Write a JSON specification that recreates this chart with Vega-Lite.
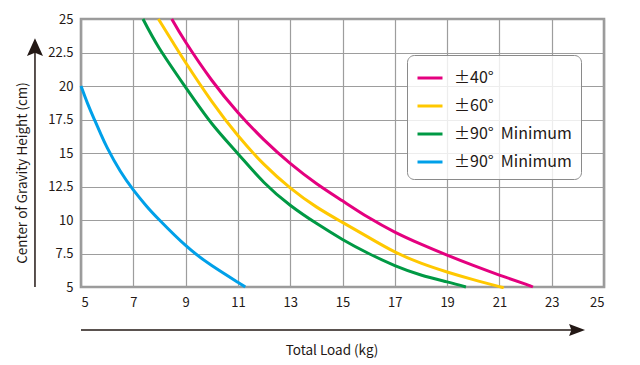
{
  "$schema": "https://vega.github.io/schema/vega-lite/v6.json",
  "width": 523,
  "height": 268,
  "autosize": {"type": "none"},
  "padding": {"left": 81, "top": 19, "right": 36, "bottom": 78},
  "background": "white",
  "config": {
    "view": {"stroke": "#9a9a9a", "strokeWidth": 2.6},
    "font": "Noto Sans CJK JP",
    "axis": {
      "domain": false,
      "ticks": false,
      "grid": true,
      "gridColor": "#9d9d9d",
      "gridWidth": 1.2,
      "labelOverlap": false,
      "labelFont": "Noto Sans CJK JP",
      "labelFontSize": 13,
      "labelColor": "#231815",
      "titleFont": "Noto Sans CJK JP",
      "titleFontSize": 13.5,
      "titleFontWeight": "normal",
      "titleColor": "#231815"
    },
    "legend": {
      "orient": "none",
      "legendX": 326,
      "legendY": 36,
      "symbolType": "stroke",
      "symbolSize": 625,
      "symbolStrokeWidth": 3,
      "labelFont": "Noto Sans CJK JP",
      "labelFontSize": 16,
      "labelColor": "#231815",
      "labelOffset": 10,
      "labelLimit": 0,
      "padding": 9,
      "rowPadding": 6,
      "strokeColor": "#8a8a8a",
      "fillColor": "rgba(255,255,255,0.82)",
      "cornerRadius": 7
    }
  },
  "resolve": {"axis": {"x": "independent", "y": "independent"}},
  "datasets": {
    "curves": [
      {"s": "a", "x": 8.47, "y": 25},
      {"s": "a", "x": 9, "y": 23.28},
      {"s": "a", "x": 10, "y": 20.43},
      {"s": "a", "x": 11, "y": 18.03},
      {"s": "a", "x": 12, "y": 15.98},
      {"s": "a", "x": 13, "y": 14.23},
      {"s": "a", "x": 14, "y": 12.73},
      {"s": "a", "x": 15, "y": 11.43},
      {"s": "a", "x": 16, "y": 10.18},
      {"s": "a", "x": 17, "y": 9.1},
      {"s": "a", "x": 18, "y": 8.2},
      {"s": "a", "x": 19, "y": 7.38},
      {"s": "a", "x": 20, "y": 6.61},
      {"s": "a", "x": 21, "y": 5.89},
      {"s": "a", "x": 22, "y": 5.21},
      {"s": "a", "x": 22.28, "y": 5},
      {"s": "b", "x": 7.96, "y": 25},
      {"s": "b", "x": 8.5, "y": 23.3},
      {"s": "b", "x": 9, "y": 21.75},
      {"s": "b", "x": 10, "y": 18.85},
      {"s": "b", "x": 11, "y": 16.3},
      {"s": "b", "x": 12, "y": 14.15},
      {"s": "b", "x": 13, "y": 12.4},
      {"s": "b", "x": 14, "y": 10.98},
      {"s": "b", "x": 15, "y": 9.82},
      {"s": "b", "x": 16, "y": 8.7},
      {"s": "b", "x": 17, "y": 7.62},
      {"s": "b", "x": 18, "y": 6.78},
      {"s": "b", "x": 19, "y": 6.12},
      {"s": "b", "x": 20, "y": 5.55},
      {"s": "b", "x": 21, "y": 5.03},
      {"s": "b", "x": 21.06, "y": 5},
      {"s": "c", "x": 7.37, "y": 25},
      {"s": "c", "x": 8, "y": 22.8},
      {"s": "c", "x": 9, "y": 19.9},
      {"s": "c", "x": 10, "y": 17.2},
      {"s": "c", "x": 11, "y": 14.95},
      {"s": "c", "x": 12, "y": 12.8},
      {"s": "c", "x": 13, "y": 11.1},
      {"s": "c", "x": 14, "y": 9.75},
      {"s": "c", "x": 15, "y": 8.55},
      {"s": "c", "x": 16, "y": 7.5},
      {"s": "c", "x": 17, "y": 6.6},
      {"s": "c", "x": 18, "y": 5.9},
      {"s": "c", "x": 19, "y": 5.38},
      {"s": "c", "x": 19.72, "y": 5},
      {"s": "d", "x": 5, "y": 20},
      {"s": "d", "x": 5.25, "y": 18.7},
      {"s": "d", "x": 5.5, "y": 17.55},
      {"s": "d", "x": 5.75, "y": 16.45},
      {"s": "d", "x": 6, "y": 15.4},
      {"s": "d", "x": 6.5, "y": 13.65},
      {"s": "d", "x": 7, "y": 12.25},
      {"s": "d", "x": 7.5, "y": 11.05},
      {"s": "d", "x": 8, "y": 10.0},
      {"s": "d", "x": 9, "y": 8.1},
      {"s": "d", "x": 10, "y": 6.6},
      {"s": "d", "x": 11, "y": 5.35},
      {"s": "d", "x": 11.28, "y": 5}
    ]
  },
  "layer": [
    {
      "data": {"name": "curves"},
      "mark": {"type": "line", "strokeWidth": 3, "interpolate": "natural"},
      "encoding": {
        "x": {
          "field": "x",
          "type": "quantitative",
          "scale": {"domain": [5, 25], "nice": false, "zero": false},
          "axis": {
            "values": [5, 7, 9, 11, 13, 15, 17, 19, 21, 23, 25],
            "labelPadding": 9,
            "title": "Total Load (kg)",
            "titleX": 250.5,
            "titleY": 67,
            "titleBaseline": "alphabetic"
          }
        },
        "y": {
          "field": "y",
          "type": "quantitative",
          "scale": {"domain": [5, 25], "nice": false, "zero": false},
          "axis": {
            "values": [5, 7.5, 10, 12.5, 15, 17.5, 20, 22.5, 25],
            "labelExpr": "'' + datum.value",
            "labelPadding": 8,
            "title": "Center of Gravity Height (cm)",
            "titleX": -55,
            "titleY": 153.5,
            "titleAngle": 270,
            "titleBaseline": "alphabetic"
          }
        },
        "color": {
          "field": "s",
          "type": "nominal",
          "scale": {"domain": ["a", "b", "c", "d"], "range": ["#E4007F", "#FFC800", "#009944", "#00A0E9"]},
          "legend": {
            "title": null,
            "labelExpr": "datum.value == 'a' ? '±40°' : datum.value == 'b' ? '±60°' : '±90°\u00a0\u00a0Minimum'"
          }
        }
      }
    },
    {
      "data": {"values": [{}]},
      "mark": {"type": "rule", "color": "#231815", "strokeWidth": 1.5},
      "encoding": {
        "x": {"datum": 5, "type": "quantitative", "axis": null},
        "x2": {"datum": 23.8},
        "y": {"datum": 1.79, "type": "quantitative", "axis": null}
      }
    },
    {
      "data": {"values": [{}]},
      "mark": {"type": "point", "filled": true, "color": "#231815", "opacity": 1, "size": 144, "shape": "M1.33,0L-1.33,1L-0.95,0L-1.33,-1Z"},
      "encoding": {
        "x": {"datum": 23.97, "type": "quantitative", "axis": null},
        "y": {"datum": 1.79, "type": "quantitative", "axis": null}
      }
    },
    {
      "data": {"values": [{}]},
      "mark": {"type": "rule", "color": "#231815", "strokeWidth": 1.5},
      "encoding": {
        "x": {"datum": 3.24, "type": "quantitative", "axis": null},
        "y": {"datum": 5, "type": "quantitative", "axis": null},
        "y2": {"datum": 23.0}
      }
    },
    {
      "data": {"values": [{}]},
      "mark": {"type": "point", "filled": true, "color": "#231815", "opacity": 1, "size": 256, "shape": "M0,-1.1L1,1.1L0,0.7L-1,1.1Z"},
      "encoding": {
        "x": {"datum": 3.24, "type": "quantitative", "axis": null},
        "y": {"datum": 22.9, "type": "quantitative", "axis": null}
      }
    }
  ]
}
